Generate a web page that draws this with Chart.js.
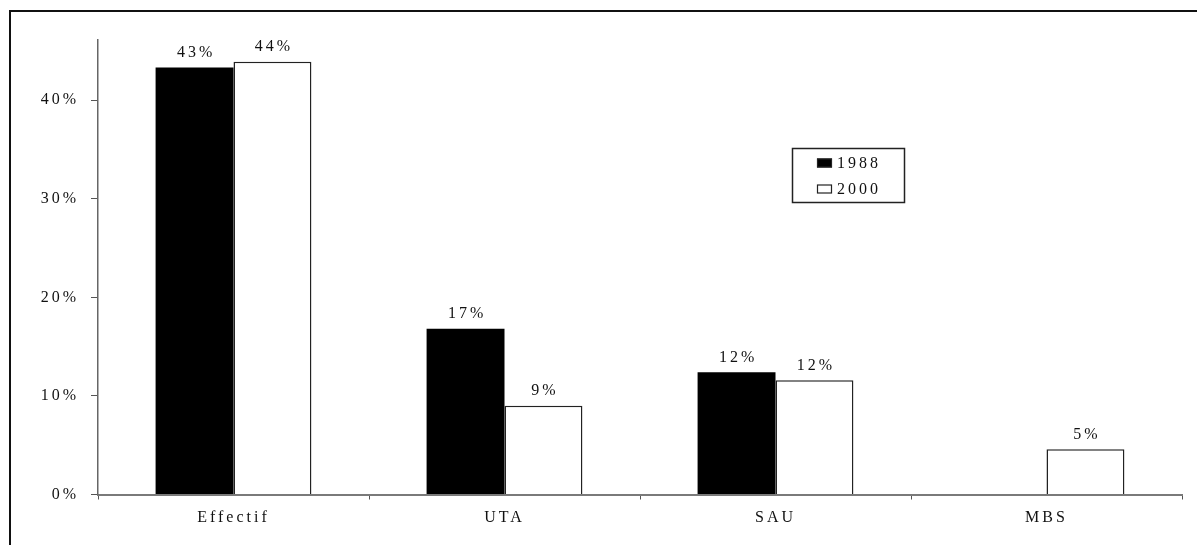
<!DOCTYPE html>
<html>
<head>
<meta charset="utf-8">
<script src="https://cdn.jsdelivr.net/npm/chart.js@4.4.1/dist/chart.umd.min.js"></script>
<style>
  html, body { margin: 0; padding: 0; background: #fff; }
  #wrap { width: 1197px; height: 545px; }
</style>
</head>
<body>
<div id="wrap"><canvas id="chart" width="1197" height="545"></canvas></div>
<script>
const categories = ["Effectif", "UTA", "SAU", "MBS"]
const share1988 = [0.433, 0.168, 0.124, null]
const share2000 = [0.439, 0.090, 0.116, 0.046]
const yTicks = [0, 0.1, 0.2, 0.3, 0.4]

const serif = "'Liberation Serif', 'DejaVu Serif', serif"
const fontSize = 16
const spacing = "3px"
const pct = (v) => Math.round(v * 100) + "%"

// white background plus the top/left frame lines
const framePlugin = {
  id: "frame",
  beforeDraw(chart) {
    const ctx = chart.ctx
    ctx.letterSpacing = spacing
    ctx.save()
    ctx.fillStyle = "#fff"
    ctx.fillRect(0, 0, chart.width, chart.height)
    ctx.strokeStyle = "#111"
    ctx.lineWidth = 2
    ctx.beginPath()
    ctx.moveTo(10, chart.height)
    ctx.lineTo(10, 11)
    ctx.lineTo(chart.width, 11)
    ctx.stroke()
    ctx.restore()
  },
}

// percentage above each bar
const valueLabels = {
  id: "valueLabels",
  afterDatasetsDraw(chart) {
    const ctx = chart.ctx
    ctx.save()
    ctx.letterSpacing = spacing
    ctx.font = fontSize + "px " + serif
    ctx.fillStyle = "#111"
    ctx.textAlign = "center"
    ctx.textBaseline = "alphabetic"
    chart.data.datasets.forEach((ds, i) => {
      chart.getDatasetMeta(i).data.forEach((bar, j) => {
        const v = ds.data[j]
        if (v == null) return
        ctx.fillText(pct(v), bar.x + 1.5, bar.y - 10.5)
      })
    })
    ctx.restore()
  },
}

// boxed legend inside the plot
const boxLegend = {
  id: "boxLegend",
  afterDraw(chart) {
    const ctx = chart.ctx
    ctx.save()
    ctx.letterSpacing = spacing
    ctx.strokeStyle = "#222"
    ctx.lineWidth = 1.5
    ctx.strokeRect(792.5, 148.5, 112, 54)
    ctx.font = fontSize + "px " + serif
    ctx.textAlign = "left"
    ctx.textBaseline = "middle"
    chart.data.datasets.forEach((ds, i) => {
      const cy = 163 + i * 26
      ctx.fillStyle = ds.backgroundColor
      ctx.fillRect(817, cy - 4.5, 15, 9)
      ctx.lineWidth = 1.2
      ctx.strokeStyle = "#222"
      ctx.strokeRect(817.5, cy - 4, 14, 8)
      ctx.fillStyle = "#111"
      ctx.fillText(ds.label, 837, cy + 1)
    })
    ctx.restore()
  },
}

new Chart(document.getElementById("chart"), {
  type: "bar",
  data: {
    labels: categories,
    datasets: [
      {
        label: "1988",
        data: share1988,
        backgroundColor: "#000",
        borderWidth: 0,
        categoryPercentage: 0.575,
        barPercentage: 1,
      },
      {
        label: "2000",
        data: share2000,
        backgroundColor: "#fff",
        borderColor: "#222",
        borderWidth: 1.5,
        categoryPercentage: 0.575,
        barPercentage: 1,
      },
    ],
  },
  options: {
    responsive: false,
    animation: false,
    layout: { padding: { top: 40, right: 15, left: 0, bottom: 0 } },
    plugins: {
      legend: { display: false },
      tooltip: { enabled: false },
    },
    scales: {
      x: {
        offset: true,
        grid: {
          display: true,
          offset: true,
          drawOnChartArea: false,
          drawTicks: true,
          tickLength: 5,
          color: "#555",
          lineWidth: 1,
        },
        border: { display: true, color: "#7a7a7a", width: 2 },
        ticks: {
          font: { family: serif, size: fontSize },
          color: "#111",
          padding: 9,
          maxRotation: 0,
        },
        afterFit(s) {
          s.height = 50.5
        },
      },
      y: {
        min: 0,
        max: 0.461,
        afterBuildTicks(s) {
          s.ticks = yTicks.map((v) => ({ value: v }))
        },
        grid: {
          drawOnChartArea: false,
          drawTicks: true,
          tickLength: 7,
          color: "#555",
        },
        border: { display: true, color: "#666", width: 1.5 },
        ticks: {
          callback: (v) => pct(v),
          font: { family: serif, size: fontSize },
          color: "#111",
          padding: 12,
        },
        afterFit(s) {
          s.width = 98
        },
      },
    },
  },
  plugins: [framePlugin, valueLabels, boxLegend],
})
</script>
</body>
</html>
